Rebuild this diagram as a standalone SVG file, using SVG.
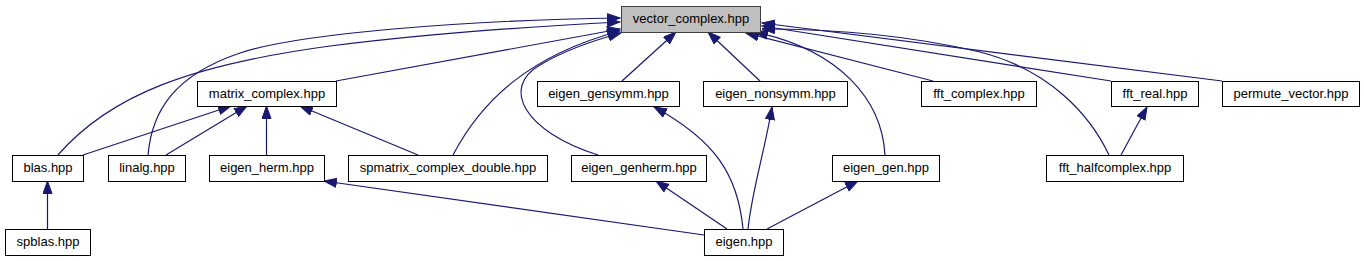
<svg xmlns="http://www.w3.org/2000/svg" width="1364" height="261" viewBox="0 0 1364 261">
<style>
.n rect{fill:#fff;stroke:#000;stroke-width:1}
.n.root rect{fill:#bfbfbf;stroke:#404040}
.n text{font-family:"Liberation Sans",Arial,sans-serif;font-size:13px;fill:#000;text-anchor:middle}
.e path{fill:none;stroke:#191970;stroke-width:1.2;marker-end:url(#ah)}
</style>
<defs>
<marker id="ah" markerUnits="userSpaceOnUse" markerWidth="14" markerHeight="11" refX="13" refY="5" orient="auto">
<path d="M0.5,0.5 L13,5 L0.5,9.5 Z" fill="#191970" stroke="#191970" stroke-width="1"/>
</marker>
</defs>
<rect width="1364" height="261" fill="#fff"/>
<g id="edges" class="e">
<path d="M47.5,229 L47.5,181"/>
<path d="M83,155 L231,106"/>
<path d="M166,155 L247,106"/>
<path d="M266.5,155 L266.5,106"/>
<path d="M418,155 L300,106"/>
<path d="M336,81 L620,29"/>
<path d="M58,155 C110,95 190,65 330,46 C440,32 540,26 620,22"/>
<path d="M148,155 C152,110 175,75 240,53 C300,33 470,20 620,18"/>
<path d="M453,155 C482,100 530,55 620,31"/>
<path d="M598,155 C525,132 500,88 540,65 C565,50 595,40 621,33"/>
<path d="M622,81 L676,32"/>
<path d="M760,81 L708,32"/>
<path d="M933,81 L746,33"/>
<path d="M885,155 C882,100 840,50 755,32"/>
<path d="M1111,81 L762,26"/>
<path d="M1222,81 L762,23"/>
<path d="M1109,155 C1090,115 1050,70 980,52 C900,33 820,29 762,29"/>
<path d="M1121,155 L1147,107"/>
<path d="M704,235 L324,181"/>
<path d="M727,229 L656,181"/>
<path d="M743,229 C738,175 715,140 654,107"/>
<path d="M748,229 C752,190 765,150 772,107"/>
<path d="M767,229 L858,181"/>
</g>
<g id="vector_complex" class="n root"><rect x="621.5" y="6.5" width="139" height="26"/><text x="691" y="23">vector_complex.hpp</text></g>
<g id="matrix_complex" class="n"><rect x="197.5" y="81.5" width="139" height="25"/><text x="267" y="98">matrix_complex.hpp</text></g>
<g id="eigen_gensymm" class="n"><rect x="537.5" y="81.5" width="142" height="25"/><text x="608.5" y="98">eigen_gensymm.hpp</text></g>
<g id="eigen_nonsymm" class="n"><rect x="703.5" y="81.5" width="144" height="25"/><text x="775.5" y="98">eigen_nonsymm.hpp</text></g>
<g id="fft_complex" class="n"><rect x="921.5" y="81.5" width="115" height="25"/><text x="979" y="98">fft_complex.hpp</text></g>
<g id="fft_real" class="n"><rect x="1111.5" y="81.5" width="87" height="25"/><text x="1155" y="98">fft_real.hpp</text></g>
<g id="permute_vector" class="n"><rect x="1222.5" y="81.5" width="137" height="25"/><text x="1291" y="98">permute_vector.hpp</text></g>
<g id="blas" class="n"><rect x="12.5" y="155.5" width="71" height="26"/><text x="48" y="172">blas.hpp</text></g>
<g id="linalg" class="n"><rect x="108.5" y="155.5" width="77" height="26"/><text x="147" y="172">linalg.hpp</text></g>
<g id="eigen_herm" class="n"><rect x="209.5" y="155.5" width="115" height="26"/><text x="267" y="172">eigen_herm.hpp</text></g>
<g id="spmatrix_complex_double" class="n"><rect x="348.5" y="155.5" width="199" height="26"/><text x="448" y="172">spmatrix_complex_double.hpp</text></g>
<g id="eigen_genherm" class="n"><rect x="571.5" y="155.5" width="135" height="26"/><text x="639" y="172">eigen_genherm.hpp</text></g>
<g id="eigen_gen" class="n"><rect x="832.5" y="155.5" width="107" height="26"/><text x="886" y="172">eigen_gen.hpp</text></g>
<g id="fft_halfcomplex" class="n"><rect x="1046.5" y="155.5" width="137" height="26"/><text x="1115" y="172">fft_halfcomplex.hpp</text></g>
<g id="spblas" class="n"><rect x="5.5" y="229.5" width="85" height="26"/><text x="48" y="246">spblas.hpp</text></g>
<g id="eigen" class="n"><rect x="704.5" y="229.5" width="79" height="26"/><text x="744" y="246">eigen.hpp</text></g>
</svg>
